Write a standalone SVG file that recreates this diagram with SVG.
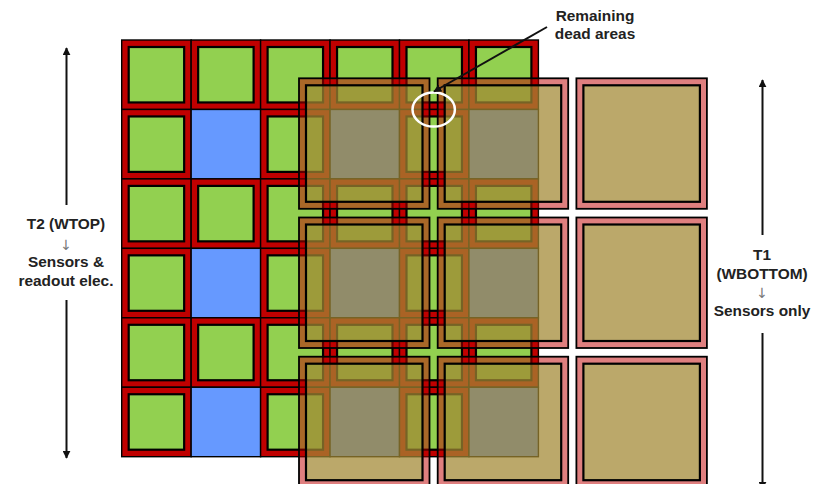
<svg xmlns="http://www.w3.org/2000/svg" xmlns:xlink="http://www.w3.org/1999/xlink" width="820" height="484" viewBox="0 0 820 484">
<style>
.lbl{font-family:"Liberation Sans",Arial,sans-serif;font-weight:bold;font-size:15.4px;fill:#222;text-anchor:middle}
.arr{font-family:"DejaVu Sans","Liberation Sans",sans-serif;font-size:14px;fill:#777;text-anchor:middle}
.dim{stroke:#111;stroke-width:2;fill:none}
.frame{fill:#C00000;stroke:#000;stroke-width:1.4}
.pix{fill:#92D050;stroke:#000;stroke-width:2.2}
.blue{fill:#6699FF;stroke:#000;stroke-width:1.4}
.tb{fill:#C00000;fill-opacity:0.5;fill-rule:evenodd}
.ti{fill:#A28833;fill-opacity:0.73;stroke:#000;stroke-width:2.2}
.to{fill:none;stroke:#000;stroke-width:1.8}
</style>
<defs>
<g id="cg"><rect class="frame" x="0" y="0" width="69.45" height="69.45"/><rect class="pix" x="7" y="7" width="55.45" height="55.45"/></g>
<g id="cb"><rect class="blue" x="0" y="0" width="69.45" height="69.45"/></g>
<g id="tile"><path class="tb" d="M0 0H130.5V130.5H0Z M7 7V123.5H123.5V7Z"/><rect class="ti" x="7" y="7" width="116.5" height="116.5"/><rect class="to" x="0" y="0" width="130.5" height="130.5"/></g>
<marker id="ah" viewBox="0 0 10 10" refX="9" refY="5" markerWidth="4" markerHeight="4" orient="auto-start-reverse" markerUnits="strokeWidth"><path d="M0 0L10 5L0 10Z" fill="#111"/></marker>
</defs>
<g id="t2">
<g id="t2-r0c0"><use xlink:href="#cg" x="121.7" y="40"/></g>
<g id="t2-r0c1"><use xlink:href="#cg" x="191.15" y="40"/></g>
<g id="t2-r0c2"><use xlink:href="#cg" x="260.6" y="40"/></g>
<g id="t2-r0c3"><use xlink:href="#cg" x="330.05" y="40"/></g>
<g id="t2-r0c4"><use xlink:href="#cg" x="399.5" y="40"/></g>
<g id="t2-r0c5"><use xlink:href="#cg" x="468.95" y="40"/></g>
<g id="t2-r1c0"><use xlink:href="#cg" x="121.7" y="109.45"/></g>
<g id="t2-r1c1"><use xlink:href="#cb" x="191.15" y="109.45"/></g>
<g id="t2-r1c2"><use xlink:href="#cg" x="260.6" y="109.45"/></g>
<g id="t2-r1c3"><use xlink:href="#cb" x="330.05" y="109.45"/></g>
<g id="t2-r1c4"><use xlink:href="#cg" x="399.5" y="109.45"/></g>
<g id="t2-r1c5"><use xlink:href="#cb" x="468.95" y="109.45"/></g>
<g id="t2-r2c0"><use xlink:href="#cg" x="121.7" y="178.9"/></g>
<g id="t2-r2c1"><use xlink:href="#cg" x="191.15" y="178.9"/></g>
<g id="t2-r2c2"><use xlink:href="#cg" x="260.6" y="178.9"/></g>
<g id="t2-r2c3"><use xlink:href="#cg" x="330.05" y="178.9"/></g>
<g id="t2-r2c4"><use xlink:href="#cg" x="399.5" y="178.9"/></g>
<g id="t2-r2c5"><use xlink:href="#cg" x="468.95" y="178.9"/></g>
<g id="t2-r3c0"><use xlink:href="#cg" x="121.7" y="248.35"/></g>
<g id="t2-r3c1"><use xlink:href="#cb" x="191.15" y="248.35"/></g>
<g id="t2-r3c2"><use xlink:href="#cg" x="260.6" y="248.35"/></g>
<g id="t2-r3c3"><use xlink:href="#cb" x="330.05" y="248.35"/></g>
<g id="t2-r3c4"><use xlink:href="#cg" x="399.5" y="248.35"/></g>
<g id="t2-r3c5"><use xlink:href="#cb" x="468.95" y="248.35"/></g>
<g id="t2-r4c0"><use xlink:href="#cg" x="121.7" y="317.8"/></g>
<g id="t2-r4c1"><use xlink:href="#cg" x="191.15" y="317.8"/></g>
<g id="t2-r4c2"><use xlink:href="#cg" x="260.6" y="317.8"/></g>
<g id="t2-r4c3"><use xlink:href="#cg" x="330.05" y="317.8"/></g>
<g id="t2-r4c4"><use xlink:href="#cg" x="399.5" y="317.8"/></g>
<g id="t2-r4c5"><use xlink:href="#cg" x="468.95" y="317.8"/></g>
<g id="t2-r5c0"><use xlink:href="#cg" x="121.7" y="387.25"/></g>
<g id="t2-r5c1"><use xlink:href="#cb" x="191.15" y="387.25"/></g>
<g id="t2-r5c2"><use xlink:href="#cg" x="260.6" y="387.25"/></g>
<g id="t2-r5c3"><use xlink:href="#cb" x="330.05" y="387.25"/></g>
<g id="t2-r5c4"><use xlink:href="#cg" x="399.5" y="387.25"/></g>
<g id="t2-r5c5"><use xlink:href="#cb" x="468.95" y="387.25"/></g>
</g>
<g id="t1">
<g id="t1-r0c0"><use xlink:href="#tile" x="299" y="78.3"/></g>
<g id="t1-r0c1"><use xlink:href="#tile" x="437.7" y="78.3"/></g>
<g id="t1-r0c2"><use xlink:href="#tile" x="576.4" y="78.3"/></g>
<g id="t1-r1c0"><use xlink:href="#tile" x="299" y="217.5"/></g>
<g id="t1-r1c1"><use xlink:href="#tile" x="437.7" y="217.5"/></g>
<g id="t1-r1c2"><use xlink:href="#tile" x="576.4" y="217.5"/></g>
<g id="t1-r2c0"><use xlink:href="#tile" x="299" y="356.7"/></g>
<g id="t1-r2c1"><use xlink:href="#tile" x="437.7" y="356.7"/></g>
<g id="t1-r2c2"><use xlink:href="#tile" x="576.4" y="356.7"/></g>
</g>
<g id="dead-area">
<ellipse cx="433.7" cy="109.6" rx="21.2" ry="17" fill="none" stroke="#fff" stroke-width="2.5"/>
<text class="lbl" x="595" y="21">Remaining</text>
<text class="lbl" x="595" y="39">dead areas</text>
</g>
<g id="connectors">
<line class="dim" x1="547" y1="27" x2="434" y2="91.5" marker-end="url(#ah)"/>
<line class="dim" x1="66.5" y1="205" x2="66.5" y2="48" marker-end="url(#ah)"/>
<line class="dim" x1="66.5" y1="300" x2="66.5" y2="458" marker-end="url(#ah)"/>
<line class="dim" x1="762.5" y1="235" x2="762.5" y2="80" marker-end="url(#ah)"/>
<line class="dim" x1="762.5" y1="333" x2="762.5" y2="489" marker-end="url(#ah)"/>
</g>
<g id="label-t2">
<text class="lbl" x="66" y="229">T2 (WTOP)</text>
<text class="arr" x="66" y="250">↓</text>
<text class="lbl" x="66" y="267">Sensors &amp;</text>
<text class="lbl" x="66" y="285.5">readout elec.</text>
</g>
<g id="label-t1">
<text class="lbl" x="762" y="259.5">T1</text>
<text class="lbl" x="762" y="278.5">(WBOTTOM)</text>
<text class="arr" x="762" y="298">↓</text>
<text class="lbl" x="762" y="316">Sensors only</text>
</g>
</svg>
